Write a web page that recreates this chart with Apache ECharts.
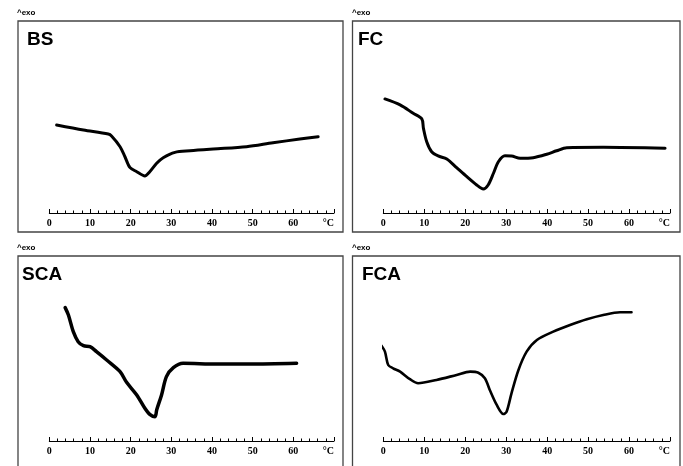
<!DOCTYPE html>
<html>
<head>
<meta charset="utf-8">
<script src="https://cdn.jsdelivr.net/npm/echarts@6/dist/echarts.min.js"></script>
<style>
html,body{margin:0;padding:0;background:#fff;}
#c{width:683px;height:466px;}
</style>
</head>
<body>
<div id="c"></div>
<script>
// Panel names
const panelNames = ['BS', 'FC', 'SCA', 'FCA'];
// x-axis ticks (°C), last tick shown as unit
const xTicks = [0, 10, 20, 30, 40, 50, 60, 70];
const unitLabel = '°C';
const exoLabel = '^exo';

// Temperature (°C) and relative heat flow (arbitrary units, exo up)
const bsTemp = [1.8, 8.4, 14.5, 15.3, 17.4, 18.6, 19.8, 21.5, 23.5, 24.7, 26.4, 28.0, 30.9, 34.6, 40.3, 48.5, 55.0, 61.6, 66.1];
const bsFlow = [45.8, 43.2, 41.1, 40.1, 34.5, 29.3, 23.8, 21.5, 19.3, 21.5, 25.9, 28.8, 31.6, 32.4, 33.3, 34.5, 36.6, 38.5, 39.7];

const fcTemp = [0.4, 4.1, 7.3, 9.4, 9.8, 10.6, 11.8, 13.4, 15.5, 17.9, 20.4, 22.8, 24.4, 25.6, 26.9, 28.1, 29.7, 31.3, 33.4, 36.6, 39.9, 42.3, 44.8, 53.7, 68.8];
const fcFlow = [59.4, 56.3, 51.9, 49.0, 44.1, 37.1, 31.9, 29.7, 28.1, 23.6, 18.9, 14.6, 12.5, 14.6, 20.7, 26.7, 29.8, 29.7, 28.5, 28.8, 30.6, 32.4, 34.0, 34.2, 33.7];

const scaTemp = [3.9, 4.7, 5.9, 7.1, 8.4, 10.0, 11.6, 14.1, 17.4, 19.0, 21.5, 23.5, 24.7, 26.0, 26.4, 27.6, 28.8, 30.5, 32.9, 41.1, 49.3, 60.8];
const scaFlow = [72.1, 68.1, 59.1, 53.7, 51.5, 51.0, 48.3, 43.8, 37.5, 31.7, 24.9, 17.7, 14.4, 13.1, 16.8, 24.9, 34.8, 39.6, 42.0, 41.6, 41.6, 42.0];

const fcaTemp = [-0.4, 0.4, 1.2, 2.4, 4.1, 6.5, 8.5, 13.0, 17.9, 21.2, 23.2, 24.8, 26.0, 27.7, 29.3, 30.1, 31.3, 33.0, 35.0, 37.5, 41.5, 45.6, 49.7, 53.7, 57.8, 60.6];
const fcaFlow = [51.4, 48.3, 41.1, 39.3, 37.5, 33.4, 31.2, 33.0, 35.7, 37.5, 36.9, 33.9, 27.6, 19.5, 14.6, 15.8, 25.8, 38.4, 48.3, 54.6, 59.1, 62.7, 65.8, 68.1, 69.6, 69.6];

const temps = [bsTemp, fcTemp, scaTemp, fcaTemp];
const flows = [bsFlow, fcFlow, scaFlow, fcaFlow];
const lineWidths = [3, 3, 3.5, 2.6];

// layout
const grids = [
  {left: 49.3, top: 21, width: 284.7, height: 192},
  {left: 383.3, top: 21, width: 286.7, height: 192},
  {left: 49.3, top: 256, width: 284.7, height: 185},
  {left: 383.3, top: 256, width: 286.7, height: 185}
];
const frames = [
  {x: 18, y: 21, w: 325, h: 211},
  {x: 352.5, y: 21, w: 327.5, h: 211},
  {x: 18, y: 256, w: 325, h: 230},
  {x: 352.5, y: 256, w: 327.5, h: 230}
];
const titlePos = [[27, 40], [358, 40], [22, 275], [362, 275]];
const exoPos = [[17, 13], [352, 13], [17, 248], [352, 248]];

const chart = echarts.init(document.getElementById('c'), null, {renderer: 'canvas'});

const xAxes = grids.map((g, i) => ({
  type: 'value', gridIndex: i, min: xTicks[0], max: xTicks[xTicks.length - 1], interval: 10,
  axisLine: {show: true, onZero: false, lineStyle: {color: '#000', width: 1}},
  axisTick: {show: true, inside: true, length: 4, lineStyle: {color: '#000', width: 1}},
  minorTick: {show: true, splitNumber: 5, length: 2.5, lineStyle: {color: '#000', width: 1}},
  splitLine: {show: false},
  axisLabel: {
    show: true, margin: 5, color: '#000', fontSize: 10, fontWeight: 'bold',
    fontFamily: 'Liberation Serif, serif',
    alignMaxLabel: 'right',
    formatter: v => (v === xTicks[xTicks.length - 1] ? unitLabel : String(v))
  }
}));
const yAxes = grids.map((g, i) => ({
  type: 'value', gridIndex: i, min: 0, max: 100, show: false
}));
const series = grids.map((g, i) => ({
  type: 'line', xAxisIndex: i, yAxisIndex: i,
  data: temps[i].map((t, k) => [t, flows[i][k]]),
  showSymbol: false, smooth: 0.3, clip: false,
  lineStyle: {color: '#000', width: lineWidths[i], cap: 'round', join: 'round'}
}));

const graphics = [];
frames.forEach(f => graphics.push({
  type: 'rect', shape: {x: f.x, y: f.y, width: f.w, height: f.h},
  style: {fill: 'none', stroke: '#444', lineWidth: 1.3}, silent: true, z: 1
}));
panelNames.forEach((n, i) => graphics.push({
  type: 'text', x: titlePos[i][0], y: titlePos[i][1],
  style: {text: n, font: 'bold 19px "Liberation Sans", Arial, sans-serif', fill: '#000', textVerticalAlign: 'middle'}
}));
exoPos.forEach(p => graphics.push({
  type: 'text', x: p[0], y: p[1],
  style: {text: exoLabel, font: 'bold 8px "Liberation Sans", Arial, sans-serif', fill: '#000', textVerticalAlign: 'middle'}
}));

chart.setOption({
  animation: false,
  backgroundColor: '#fff',
  grid: grids.map(g => Object.assign({containLabel: false}, g)),
  xAxis: xAxes,
  yAxis: yAxes,
  series: series,
  graphic: {elements: graphics}
});
</script>
</body>
</html>
